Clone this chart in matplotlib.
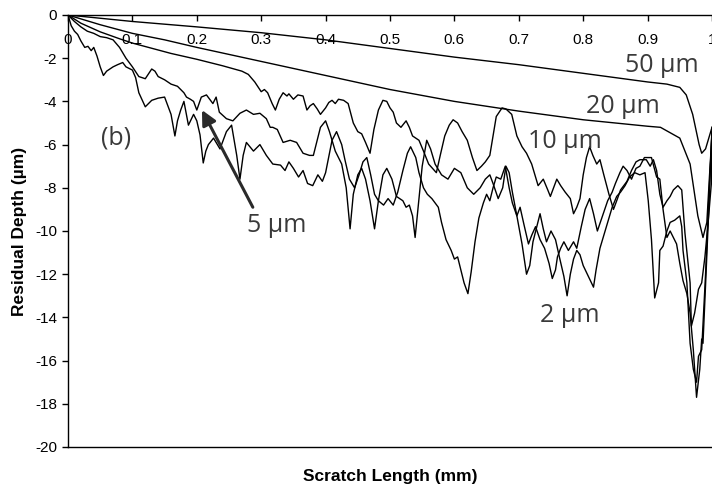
import numpy as np
import matplotlib
matplotlib.use("Agg")
import matplotlib.pyplot as plt

plt.rcParams['font.family'] = ['Liberation Sans', 'DejaVu Sans']
plt.rcParams['axes.unicode_minus'] = False

x_50 = [0, 0.05, 0.1, 0.2, 0.3, 0.4, 0.5, 0.6, 0.7, 0.8, 0.9, 0.93, 0.95, 0.96,
        0.97, 0.975, 0.98, 0.984, 0.99, 0.995, 1.0]
d_50 = [0, -0.15, -0.3, -0.55, -0.82, -1.15, -1.55, -1.95, -2.3, -2.7, -3.1, -3.2,
        -3.35, -3.7, -4.6, -5.3, -6.0, -6.4, -6.2, -5.7, -5.2]

x_20 = [0, 0.05, 0.1, 0.15, 0.2, 0.3, 0.4, 0.5, 0.6, 0.7, 0.8, 0.9, 0.92, 0.95,
        0.966, 0.978, 0.986, 0.992, 0.996, 1.0]
d_20 = [0, -0.45, -0.85, -1.15, -1.5, -2.15, -2.8, -3.45, -4.0, -4.45, -4.85, -5.15,
        -5.2, -5.7, -6.9, -9.3, -10.3, -9.6, -7.5, -5.5]

x_10 = [0, 0.02, 0.05, 0.08, 0.1, 0.13, 0.16, 0.2, 0.24, 0.27, 0.28, 0.29, 0.3, 0.305,
        0.31, 0.317, 0.322, 0.328, 0.334, 0.34, 0.343, 0.35, 0.357, 0.365, 0.371, 0.376,
        0.381, 0.387, 0.392, 0.4, 0.405, 0.41, 0.415, 0.42, 0.428, 0.435, 0.443, 0.45,
        0.456, 0.462, 0.469, 0.475, 0.482, 0.489, 0.495, 0.5, 0.505, 0.51, 0.517, 0.525,
        0.53, 0.535, 0.545, 0.552, 0.56, 0.566, 0.572, 0.578, 0.585, 0.592, 0.598, 0.605,
        0.612, 0.62, 0.628, 0.635, 0.642, 0.648, 0.655, 0.66, 0.665, 0.674, 0.68, 0.689,
        0.697, 0.705, 0.712, 0.72, 0.73, 0.738, 0.745, 0.749, 0.754, 0.759, 0.765, 0.772,
        0.78, 0.785, 0.79, 0.795, 0.8, 0.805, 0.81, 0.815, 0.821, 0.826, 0.832, 0.84,
        0.847, 0.852, 0.858, 0.868, 0.875, 0.882, 0.888, 0.898, 0.904, 0.909, 0.914,
        0.919, 0.924, 0.93, 0.935, 0.94, 0.947, 0.953, 0.958, 0.966, 0.968, 0.973, 0.979,
        0.984, 0.989, 0.994, 0.999, 1.0]
d_10 = [0, -0.38, -0.78, -1.1, -1.3, -1.54, -1.78, -2.05, -2.35, -2.6, -2.75, -3.1,
        -3.55, -3.45, -3.6, -4.1, -4.4, -3.9, -3.6, -3.75, -3.65, -3.9, -3.7, -3.75,
        -4.4, -4.2, -4.1, -4.35, -4.6, -4.3, -4.05, -3.95, -4.1, -3.9, -3.95, -4.1,
        -5.0, -5.4, -5.5, -5.9, -6.4, -5.3, -4.4, -3.95, -4.0, -4.3, -4.5, -5.0, -5.2,
        -4.9, -5.2, -5.6, -5.8, -6.3, -6.9, -7.1, -7.3, -6.5, -5.6, -5.1, -4.85, -5.0,
        -5.4, -5.8, -6.6, -7.2, -7.0, -6.8, -6.5, -5.6, -4.7, -4.3, -4.35, -4.6, -5.6,
        -6.1, -6.4, -6.9, -7.9, -7.6, -8.1, -8.4, -8.0, -7.6, -7.9, -8.2, -8.5, -9.2,
        -8.9, -8.5, -7.4, -6.6, -6.1, -6.5, -6.9, -6.7, -7.4, -8.3, -9.0, -8.6, -8.1,
        -7.7, -7.2, -6.8, -6.7, -6.7, -7.0, -6.7, -7.2, -8.3, -8.9, -8.6, -8.4, -8.1,
        -7.9, -8.1, -10.1, -12.4, -14.4, -13.8, -12.7, -12.4, -11.2, -9.6, -7.8, -5.6]

x_5 = [0, 0.01, 0.02, 0.03, 0.04, 0.05, 0.06, 0.07, 0.08, 0.09, 0.1, 0.11, 0.12, 0.13,
       0.135, 0.14, 0.15, 0.16, 0.17, 0.18, 0.184, 0.19, 0.195, 0.2, 0.207, 0.215, 0.225,
       0.23, 0.235, 0.246, 0.256, 0.267, 0.277, 0.288, 0.298, 0.308, 0.314, 0.318, 0.325,
       0.334, 0.345, 0.355, 0.365, 0.375, 0.381, 0.392, 0.4, 0.406, 0.415, 0.425, 0.432,
       0.438, 0.443, 0.45, 0.456, 0.462, 0.469, 0.476, 0.482, 0.489, 0.495, 0.503, 0.51,
       0.52, 0.525, 0.53, 0.535, 0.539, 0.545, 0.55, 0.557, 0.563, 0.57, 0.58, 0.59, 0.6,
       0.61, 0.62, 0.63, 0.64, 0.648, 0.655, 0.66, 0.668, 0.675, 0.68, 0.685, 0.69, 0.697,
       0.705, 0.712, 0.717, 0.722, 0.728, 0.733, 0.738, 0.743, 0.75, 0.757, 0.763, 0.77,
       0.775, 0.78, 0.785, 0.79, 0.795, 0.8, 0.808, 0.816, 0.82, 0.826, 0.832, 0.838,
       0.845, 0.852, 0.858, 0.865, 0.872, 0.88, 0.888, 0.896, 0.901, 0.906, 0.911, 0.917,
       0.919, 0.924, 0.93, 0.935, 0.942, 0.95, 0.953, 0.955, 0.961, 0.966, 0.971, 0.976,
       0.979, 0.984, 0.99, 0.995, 1.0]
d_5 = [0, -0.3, -0.55, -0.75, -0.85, -1.0, -1.05, -1.15, -1.5, -2.0, -2.4, -2.85, -2.95,
       -2.5, -2.6, -2.85, -3.0, -3.2, -3.3, -3.6, -3.8, -3.9, -4.0, -4.4, -3.8, -3.7,
       -4.1, -3.8, -4.5, -4.8, -4.9, -4.55, -4.4, -4.6, -4.55, -4.8, -5.2, -5.2, -5.3,
       -5.9, -5.8, -5.9, -6.4, -6.5, -6.5, -5.2, -4.9, -5.4, -6.3, -6.9, -8.0, -9.9,
       -8.3, -7.4, -7.1, -7.6, -8.6, -9.9, -8.6, -7.4, -7.1, -7.6, -8.4, -8.6, -8.9,
       -8.8, -9.3, -10.3, -8.5, -7.0, -5.8, -6.2, -6.9, -7.4, -7.6, -7.1, -7.3, -8.0,
       -8.3, -8.0, -7.6, -7.4, -7.8, -8.5, -8.0, -7.0, -7.3, -8.2, -9.3, -10.6, -12.0,
       -11.6, -10.5, -9.8, -9.2, -9.9, -10.5, -10.0, -10.4, -11.2, -12.1, -13.0, -12.0,
       -11.3, -10.9, -11.1, -11.6, -12.1, -12.6, -11.8, -10.8, -10.2, -9.6, -8.9, -8.4,
       -8.2, -7.9, -7.5, -7.3, -7.4, -7.3, -8.6, -10.4, -13.1, -12.4, -10.9, -10.7,
       -10.0, -9.6, -9.5, -9.3, -9.8, -10.9, -12.4, -15.2, -16.4, -17.0, -15.8, -15.5,
       -12.0, -8.5, -5.4]

x_2 = [0, 0.005, 0.01, 0.015, 0.02, 0.026, 0.031, 0.036, 0.04, 0.045, 0.05, 0.055, 0.06,
       0.065, 0.07, 0.077, 0.085, 0.09, 0.1, 0.105, 0.11, 0.12, 0.125, 0.13, 0.14, 0.15,
       0.155, 0.16, 0.166, 0.17, 0.175, 0.18, 0.187, 0.195, 0.2, 0.205, 0.21, 0.214, 0.218,
       0.226, 0.236, 0.246, 0.254, 0.262, 0.267, 0.272, 0.277, 0.288, 0.298, 0.308, 0.318,
       0.33, 0.337, 0.343, 0.35, 0.358, 0.365, 0.372, 0.38, 0.388, 0.395, 0.4, 0.41, 0.417,
       0.425, 0.43, 0.437, 0.445, 0.452, 0.458, 0.464, 0.47, 0.476, 0.482, 0.49, 0.497,
       0.505, 0.512, 0.52, 0.527, 0.532, 0.54, 0.545, 0.552, 0.558, 0.565, 0.57, 0.575,
       0.58, 0.587, 0.595, 0.6, 0.605, 0.61, 0.615, 0.621, 0.626, 0.632, 0.638, 0.645,
       0.65, 0.655, 0.66, 0.665, 0.672, 0.679, 0.685, 0.69, 0.697, 0.702, 0.708, 0.715,
       0.72, 0.726, 0.733, 0.74, 0.747, 0.752, 0.757, 0.76, 0.765, 0.77, 0.777, 0.785,
       0.79, 0.797, 0.803, 0.81, 0.816, 0.822, 0.83, 0.838, 0.845, 0.85, 0.857, 0.862,
       0.868, 0.875, 0.882, 0.888, 0.895, 0.9, 0.906, 0.914, 0.919, 0.924, 0.93, 0.935,
       0.94, 0.945, 0.95, 0.955, 0.961, 0.966, 0.971, 0.976, 0.981, 0.984, 0.986, 0.99,
       0.995, 1.0]
d_2 = [0, -0.5, -0.75, -0.9, -1.2, -1.5, -1.45, -1.65, -1.5, -1.9, -2.4, -2.8, -2.6,
       -2.5, -2.4, -2.3, -2.2, -2.4, -2.55, -2.9, -3.6, -4.25, -4.1, -3.95, -3.85, -3.8,
       -4.2, -4.6, -5.6, -4.9, -4.4, -4.0, -5.1, -4.6, -4.9, -5.55, -6.85, -6.3, -6.0,
       -5.7, -6.2, -5.4, -5.1, -6.5, -7.6, -6.5, -5.9, -6.3, -6.0, -6.5, -6.9, -6.95,
       -7.2, -6.8, -7.1, -7.5, -7.2, -7.8, -7.9, -7.4, -7.7, -7.3, -5.8, -5.4, -6.0,
       -6.7, -7.6, -8.0, -7.4, -6.8, -6.6, -7.4, -8.3, -8.6, -8.8, -8.5, -8.8, -8.2,
       -7.2, -6.4, -6.1, -6.6, -7.3, -8.0, -8.3, -8.5, -8.7, -8.9, -9.6, -10.4, -10.9,
       -11.3, -11.2, -11.8, -12.4, -12.9, -11.9, -10.5, -9.4, -8.7, -8.3, -8.6, -8.0,
       -7.5, -7.6, -7.0, -8.0, -8.7, -9.3, -8.9, -9.7, -10.6, -10.2, -9.8, -10.4, -10.8,
       -11.5, -12.2, -11.8, -11.2, -10.8, -10.5, -10.9, -10.5, -10.8, -9.8, -9.0, -8.5,
       -9.2, -10.0, -9.3, -8.6, -8.2, -7.8, -7.3, -7.0, -7.2, -7.6, -7.1, -7.0, -6.6,
       -6.6, -6.6, -7.5, -7.6, -9.0, -10.3, -10.0, -10.3, -10.6, -11.5, -12.3, -12.9,
       -13.8, -15.5, -17.7, -16.4, -15.0, -15.2, -12.5, -9.0, -5.2]

x_ticks = [0, 0.1, 0.2, 0.3, 0.4, 0.5, 0.6, 0.7, 0.8, 0.9, 1]
x_tick_labels = ['0', '0.1', '0.2', '0.3', '0.4', '0.5', '0.6', '0.7', '0.8', '0.9', '1']
y_ticks = list(range(-20, 1, 2))

fig = plt.figure(figsize=(7.12, 4.87), dpi=100)
ax = fig.add_axes([68 / 712, 1 - 447 / 487, 644 / 712, 432 / 487])

for xs, ys in [(x_50, d_50), (x_20, d_20), (x_10, d_10), (x_5, d_5), (x_2, d_2)]:
    ax.plot(xs, ys, color='black', lw=1.0)

ax.set_xlim(0, 1)
ax.set_ylim(-20, 0)

# excel style: x axis crosses at y = 0, frame line at the bottom
ax.spines['bottom'].set_position(('data', 0))
ax.spines['top'].set_position(('data', -20))
ax.spines['right'].set_visible(False)
for s in ['bottom', 'top', 'left']:
    ax.spines[s].set_linewidth(1.0)

ax.set_xticks(x_ticks)
ax.set_xticklabels(x_tick_labels)
ax.set_yticks(y_ticks)
ax.set_yticklabels([str(v) for v in y_ticks])
ax.tick_params(axis='x', direction='out', length=4, width=1, pad=9, labelsize=11)
ax.tick_params(axis='y', direction='out', length=4, width=1, pad=4, labelsize=11)

ax.set_xlabel('Scratch Length (mm)', fontsize=12.5, fontweight='bold', va='center')
ax.set_ylabel('Residual Depth (µm)', fontsize=12.5, fontweight='bold')
ax.xaxis.set_label_coords(0.5, -0.0694)
ax.yaxis.set_label_coords(-0.064, 0.5)

lab_font = dict(family=['Open Sans', 'DejaVu Sans'], fontsize=18, color='#3a3a3a',
                ha='center', va='baseline')
ax.text(0.922, -2.64, '50 µm', **lab_font)
ax.text(0.862, -4.54, '20 µm', **lab_font)
ax.text(0.772, -6.16, '10 µm', **lab_font)
ax.text(0.324, -10.05, '5 µm', **lab_font)
ax.text(0.779, -14.2, '2 µm', **lab_font)
ax.text(0.0745, -6.0, '(b)', **lab_font)

ax.annotate('', xy=(0.208, -4.4), xytext=(0.287, -8.9),
            arrowprops=dict(arrowstyle='-|>', lw=2.2, color='#2a2a2a',
                            mutation_scale=22, shrinkA=0, shrinkB=0))

fig.savefig('out.png', dpi=100)
